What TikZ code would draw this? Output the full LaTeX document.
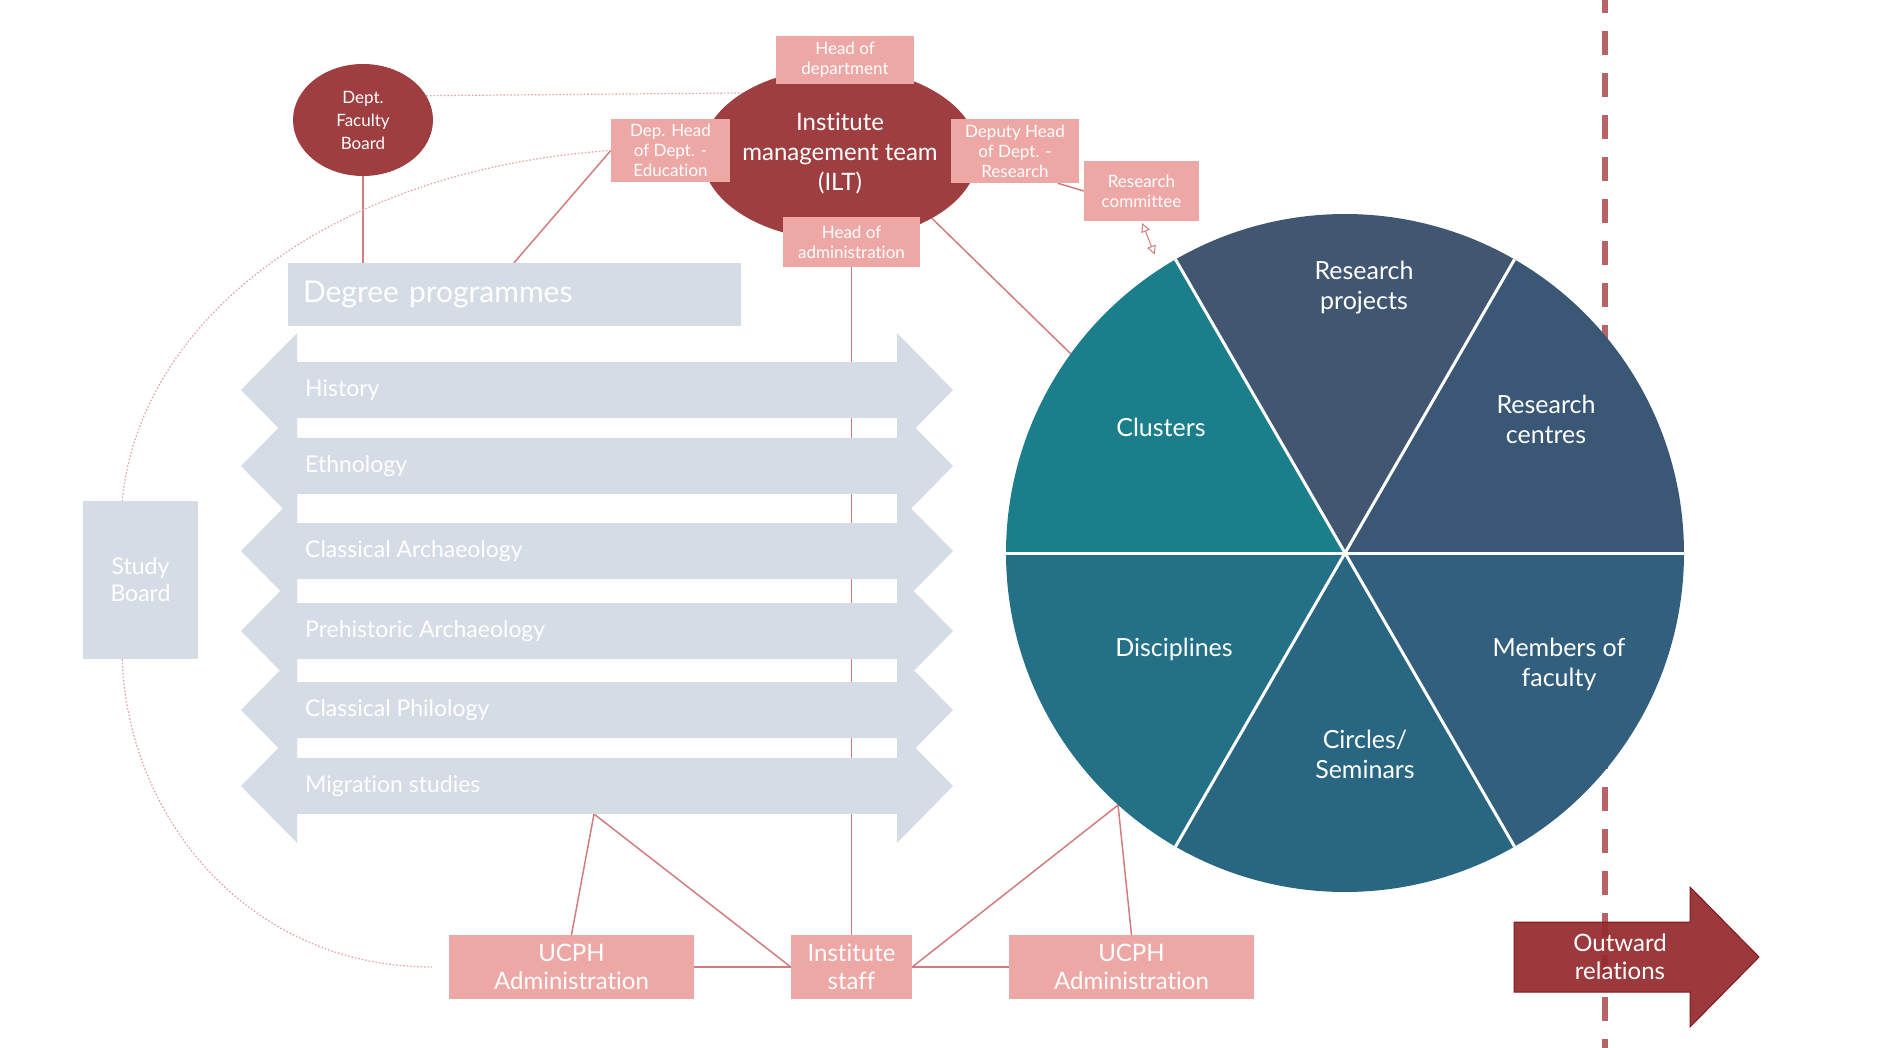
\documentclass[tikz,border=0pt]{standalone}
\usepackage{fontspec}
\setmainfont{Lato}[Ligatures=NoCommon]
\usetikzlibrary{shapes.geometric,arrows.meta,backgrounds}

\definecolor{boardred}{HTML}{9F3E41}
\definecolor{rosebox}{HTML}{EDA8A6}
\definecolor{paleblue}{HTML}{D6DCE5}
\definecolor{linkred}{HTML}{D27C7F}
\definecolor{dotred}{HTML}{E59C9D}
\definecolor{dashred}{HTML}{B86467}
\definecolor{arrowred}{HTML}{952A2E}
\definecolor{arrowdark}{HTML}{7E1A1E}
\definecolor{pieproj}{HTML}{415670}
\definecolor{piecen}{HTML}{3A5876}
\definecolor{piemem}{HTML}{325F7E}
\definecolor{piecir}{HTML}{286682}
\definecolor{piedis}{HTML}{237087}
\definecolor{pieclu}{HTML}{1B7F8B}

\begin{document}
\begin{tikzpicture}[x=1pt,y=-1pt,
    rosenode/.style={fill=rosebox,text=white,align=center,inner sep=0pt,font=\fontsize{17}{20}\selectfont},
    bignode/.style={fill=rosebox,text=white,align=center,inner sep=0pt,minimum height=64pt,font=\fontsize{24}{28}\selectfont},
    boardnode/.style={ellipse,fill=boardred,text=white,align=center,inner sep=0pt},
    link/.style={linkred,line width=1.5pt},
    dots/.style={dotred,line width=1.2pt,dash pattern=on 1.5pt off 2pt},
    pietext/.style={text=white,align=center,font=\fontsize{25}{30}\selectfont},
    progtext/.style={text=white,anchor=west,inner sep=0pt,font=\fontsize{23}{28}\selectfont}]

\useasboundingbox (0,0) rectangle (1880,1048);

% management
\node[boardnode,minimum width=140pt,minimum height=112pt,font=\fontsize{17}{23}\selectfont] (dfb) at (363,120) {Dept.\\Faculty\\Board};
\node[boardnode,minimum width=250pt,minimum height=172pt,font=\fontsize{24}{30}\selectfont] (ilt) at (840,154) {Institute\\management team\\(ILT)};
\node[rosenode,minimum width=138pt,minimum height=48pt] (hod) at (845,60) {Head of\\department};
\node[rosenode,minimum width=119pt,minimum height=63pt] (edu) at (670.5,150.5) {Dep. Head\\of Dept. -\\Education};
\node[rosenode,minimum width=128pt,minimum height=64pt] (dhr) at (1015,151) {Deputy Head\\of Dept. -\\Research};
\node[rosenode,minimum width=115pt,minimum height=60pt] (rcom) at (1141.5,191) {Research\\committee};
\node[rosenode,minimum width=137pt,minimum height=50pt] (hoa) at (851.5,242) {Head of\\administration};

% programmes
\node[fill=paleblue,minimum height=63pt,text width=423pt,inner xsep=15pt,inner ysep=0pt,align=left,text=white,font=\fontsize{30}{36}\selectfont] (degree) at (514.5,294.5) {Degree programmes};
\foreach \y/\name [count=\i] in {390/History,466/Ethnology,551/Classical Archaeology,631/Prehistoric Archaeology,710/Classical Philology,786/Migration studies}{
  \fill[paleblue] (241,\y) -- (297,\y-57) -- (297,\y-28) -- (897,\y-28) -- (897,\y-57) -- (953,\y)
    -- (897,\y+57) -- (897,\y+28) -- (297,\y+28) -- (297,\y+57) -- cycle;
  \node[progtext] (prog\i) at (305,\y) {\name};
}
\coordinate (migbot) at (594,814);
\node[fill=paleblue,minimum width=115pt,minimum height=158pt,text=white,align=center,font=\fontsize{23}{27}\selectfont] (study) at (140.5,580) {Study\\Board};

% staff
\node[bignode,minimum width=245pt] (ucphL) at (571.5,967) {UCPH\\Administration};
\node[bignode,minimum width=121pt] (staff) at (851.5,967) {Institute\\staff};
\node[bignode,minimum width=245pt] (ucphR) at (1131.5,967) {UCPH\\Administration};

% research wheel
\coordinate (c) at (1345,553);
\foreach \a/\col in {0/piemem,60/piecir,120/piedis,180/pieclu,240/pieproj,300/piecen}
  \fill[\col] (c) -- ++(\a:339) arc[start angle=\a,end angle=\a+60,radius=339] -- cycle;
\foreach \a in {0,60,...,300}
  \draw[white,line width=3pt] (c) -- ++(\a:339);
\node[circle,minimum size=678pt,inner sep=0pt] (pie) at (c) {};
\node[pietext] (rproj) at (1364,288) {Research\\projects};
\node[pietext] (rcen) at (1546,419) {Research\\centres};
\node[pietext] (clus) at (1161,427) {Clusters};
\node[pietext] (disc) at (1174,649) {Disciplines};
\node[pietext] (memb) at (1559,664) {Members of\\faculty};
\node[pietext] (circ) at (1365,754) {Circles/\\Seminars};

% outward
\fill[arrowred,draw=arrowdark,line width=1pt,fill opacity=.93] (1514,922) -- (1690,922) -- (1690,887) -- (1759,957)
  -- (1690,1027) -- (1690,992) -- (1514,992) -- cycle;
\node[text=white,align=center,font=\fontsize{24}{28}\selectfont] (outw) at (1620,957) {Outward\\relations};

\begin{scope}[on background layer]
  \draw[dashred,line width=6pt,dash pattern=on 24pt off 18pt,dash phase=11pt] (1605,0) -- (1605,1048);
  \draw[link] (dfb) -- (degree.north -| dfb);
  \draw[link] (edu.west) -- (degree.north -| 514,0);
  \draw[link] (hoa) -- (staff);
  \draw[link] (ilt.-35) -- (pie.144);
  \draw[link] (dhr.-37) -- (rcom.west);
  \draw[link,line width=1pt,{Triangle[open,length=9pt,width=9pt]}-{Triangle[open,length=9pt,width=9pt]},shorten >=15pt,shorten <=2pt] (rcom.south) -- (pie.123);
  \draw[link] (ucphL.north) -- (migbot) -- (staff.west);
  \draw[link] (ucphL.east) -- (staff.west);
  \draw[link] (staff.east) -- (pie.-132) -- (ucphR.north);
  \draw[link] (staff.east) -- (ucphR.west);
  \draw[dots] (dfb.21) -- (ilt.148);
  \draw[dots] (edu.west) .. controls (330,170) and (140,320) .. (study.103);
  \draw[dots,shorten >=17pt] (study.-103) .. controls (128,820) and (250,967) .. (ucphL.west);
\end{scope}
\end{tikzpicture}
\end{document}
